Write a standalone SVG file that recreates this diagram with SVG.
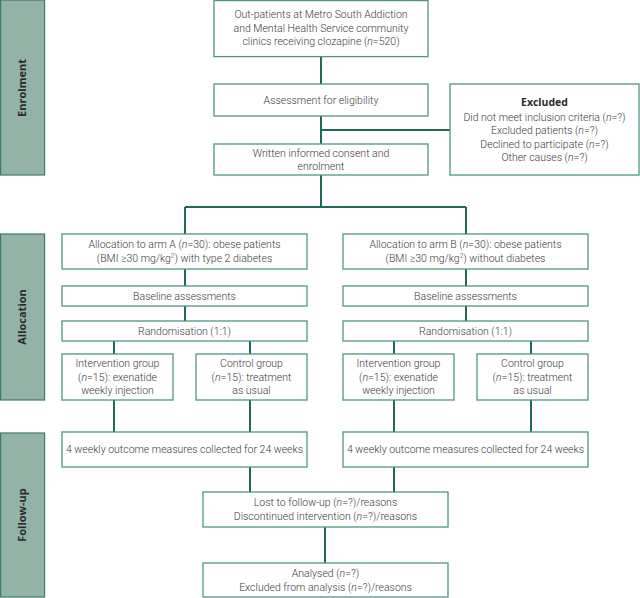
<svg xmlns="http://www.w3.org/2000/svg" width="640" height="598" viewBox="0 0 640 598">
<style>
.bar{fill:#92b3a6;stroke:#3d7a6a;stroke-width:1.2}
.bl{font-family:"Open Sans","Liberation Sans",sans-serif;font-weight:bold;font-size:11px;fill:#2b2b2b;text-anchor:middle}
.box{fill:#fff;stroke:#4f9585;stroke-width:1.3}
.t{font-family:Roboto,"Liberation Sans",sans-serif;font-weight:300;font-size:10.5px;fill:#3a3a3a;text-anchor:middle}
.tb{font-family:"Open Sans","Liberation Sans",sans-serif;font-weight:bold;font-size:10.5px;fill:#2b2b2b;text-anchor:middle}
.c{fill:none;stroke:#21695b;stroke-width:2}
</style>
<rect width="640" height="598" fill="#fff"/>
<g id="bar-enrolment"><rect class="bar" x="0.6" y="0" width="44" height="175"/><text class="bl" transform="translate(26,88) rotate(-90)">Enrolment</text></g>
<g id="bar-allocation"><rect class="bar" x="0.6" y="234" width="44" height="166"/><text class="bl" transform="translate(26,317) rotate(-90)">Allocation</text></g>
<g id="bar-followup"><rect class="bar" x="0.6" y="433" width="44" height="164"/><text class="bl" transform="translate(26,515) rotate(-90)">Follow-up</text></g>
<g id="connectors">
<path class="c" d="M321 56V84M321 116V144M321 130H450M321 175V207M185 207H466M185 207V234M466 207V234"/>
<path class="c" d="M185 269V286M185 306V321M114 341V354M250 341V354M114 400V432M250 400V432M250 467V492"/>
<path class="c" d="M466 269V286M466 306V321M394 341V354M531 341V354M394 400V432M531 400V432M394 467V492"/>
<path class="c" d="M325 527V563"/>
</g>
<g id="n-source"><rect class="box" x="214" y="0.6" width="214" height="56"/>
<text class="t" x="321" y="18">Out-patients at Metro South Addiction</text>
<text class="t" x="321" y="31.5">and Mental Health Service community</text>
<text class="t" x="321" y="45">clinics receiving clozapine (<tspan font-style="italic">n</tspan>=520)</text></g>
<g id="n-assess"><rect class="box" x="214" y="84" width="214" height="32"/><text class="t" x="321" y="104">Assessment for eligibility</text></g>
<g id="n-consent"><rect class="box" x="214" y="144" width="214" height="31"/>
<text class="t" x="321" y="156.5">Written informed consent and</text><text class="t" x="321" y="169.5">enrolment</text></g>
<g id="n-excluded"><rect class="box" x="450" y="84" width="189" height="91"/>
<text class="tb" x="544.5" y="105.5">Excluded</text>
<text class="t" x="544.5" y="120.5">Did not meet inclusion criteria (<tspan font-style="italic">n</tspan>=?)</text>
<text class="t" x="544.5" y="134">Excluded patients (<tspan font-style="italic">n</tspan>=?)</text>
<text class="t" x="544.5" y="147.5">Declined to participate (<tspan font-style="italic">n</tspan>=?)</text>
<text class="t" x="544.5" y="161">Other causes (<tspan font-style="italic">n</tspan>=?)</text></g>
<g id="n-armA"><rect class="box" x="62" y="234" width="245" height="35"/>
<text class="t" x="184.5" y="248">Allocation to arm A (<tspan font-style="italic">n</tspan>=30): obese patients</text>
<text class="t" x="184.5" y="261.5">(BMI ≥30 mg/kg<tspan font-size="6.5" dy="-3.5">2</tspan><tspan dy="3.5">) with type 2 diabetes</tspan></text></g>
<g id="n-baseA"><rect class="box" x="62" y="286" width="245" height="20"/><text class="t" x="184.5" y="299.5">Baseline assessments</text></g>
<g id="n-randA"><rect class="box" x="62" y="321" width="245" height="20"/><text class="t" x="184.5" y="334.5">Randomisation (1:1)</text></g>
<g id="n-intA"><rect class="box" x="62" y="354" width="111" height="46"/>
<text class="t" x="117.5" y="367">Intervention group</text>
<text class="t" x="117.5" y="380.5">(<tspan font-style="italic">n</tspan>=15): exenatide</text>
<text class="t" x="117.5" y="394">weekly injection</text></g>
<g id="n-ctlA"><rect class="box" x="196" y="354" width="111" height="46"/>
<text class="t" x="251.5" y="367">Control group</text>
<text class="t" x="251.5" y="380.5">(<tspan font-style="italic">n</tspan>=15): treatment</text>
<text class="t" x="251.5" y="394">as usual</text></g>
<g id="n-weekA"><rect class="box" x="62" y="432" width="245" height="35"/><text class="t" x="184.5" y="453">4 weekly outcome measures collected for 24 weeks</text></g>
<g id="n-armB"><rect class="box" x="343" y="234" width="245" height="35"/>
<text class="t" x="465.5" y="248">Allocation to arm B (<tspan font-style="italic">n</tspan>=30): obese patients</text>
<text class="t" x="465.5" y="261.5">(BMI ≥30 mg/kg<tspan font-size="6.5" dy="-3.5">2</tspan><tspan dy="3.5">) without diabetes</tspan></text></g>
<g id="n-baseB"><rect class="box" x="343" y="286" width="245" height="20"/><text class="t" x="465.5" y="299.5">Baseline assessments</text></g>
<g id="n-randB"><rect class="box" x="343" y="321" width="245" height="20"/><text class="t" x="465.5" y="334.5">Randomisation (1:1)</text></g>
<g id="n-intB"><rect class="box" x="343" y="354" width="111" height="46"/>
<text class="t" x="398.5" y="367">Intervention group</text>
<text class="t" x="398.5" y="380.5">(<tspan font-style="italic">n</tspan>=15): exenatide</text>
<text class="t" x="398.5" y="394">weekly injection</text></g>
<g id="n-ctlB"><rect class="box" x="477" y="354" width="111" height="46"/>
<text class="t" x="532.5" y="367">Control group</text>
<text class="t" x="532.5" y="380.5">(<tspan font-style="italic">n</tspan>=15): treatment</text>
<text class="t" x="532.5" y="394">as usual</text></g>
<g id="n-weekB"><rect class="box" x="343" y="432" width="245" height="35"/><text class="t" x="465.5" y="453">4 weekly outcome measures collected for 24 weeks</text></g>
<g id="n-lost"><rect class="box" x="203" y="492" width="245" height="35"/>
<text class="t" x="325.5" y="506">Lost to follow-up (<tspan font-style="italic">n</tspan>=?)/reasons</text>
<text class="t" x="325.5" y="520">Discontinued intervention (<tspan font-style="italic">n</tspan>=?)/reasons</text></g>
<g id="n-analysed"><rect class="box" x="203" y="563" width="245" height="34"/>
<text class="t" x="325.5" y="577">Analysed (<tspan font-style="italic">n</tspan>=?)</text>
<text class="t" x="325.5" y="590.5">Excluded from analysis (<tspan font-style="italic">n</tspan>=?)/reasons</text></g>
</svg>
